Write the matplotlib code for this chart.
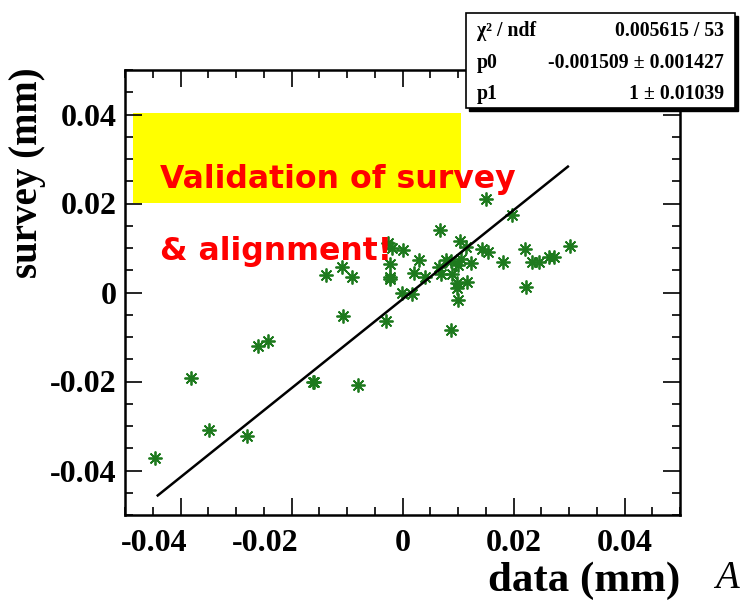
import matplotlib
matplotlib.use("Agg")
import matplotlib.pyplot as plt
from matplotlib.patches import Rectangle
import matplotlib.transforms as mtransforms
import numpy as np

plt.rcParams['axes.unicode_minus'] = False

# ---- data (mm) ----
data_x = [0.01501, 0.01964, 0.00677, 0.01038, 0.01141, -0.00256, -0.00193, 0.00014,
          0.01441, 0.01532, 0.02204, 0.03014, 0.00299, 0.00789, 0.00870, 0.01050,
          0.01231, 0.01813, 0.02342, 0.02461, 0.02641, 0.02726, -0.00223, 0.00209,
          0.00659, 0.00690, 0.00888, 0.00402, -0.00223, -0.00223, 0.00978, 0.01171,
          0.00987, -0.00013, 0.00168, 0.02222, 0.00991, -0.00301, 0.00865, -0.01094,
          -0.00901, -0.01382, -0.01081, -0.02432, -0.02595, -0.03802, -0.01604, -0.01589,
          -0.00796, -0.03495, -0.02793, -0.04463, 0.00991]
survey_y = [0.02101, 0.01741, 0.01403, 0.01167, 0.01032, 0.01122, 0.00998, 0.00953,
            0.00968, 0.00914, 0.00968, 0.01043, 0.00727, 0.00727, 0.00705, 0.00761,
            0.00671, 0.00689, 0.00689, 0.00689, 0.00788, 0.00788, 0.00631, 0.00446,
            0.00570, 0.00408, 0.00408, 0.00345, 0.00351, 0.00293, 0.00203, 0.00243,
            0.00101, 0.0, -0.00023, 0.00119, -0.00173, -0.00640, -0.00842, 0.00563,
            0.00351, 0.00390, -0.00534, -0.01086, -0.01198, -0.01914, -0.02005, -0.02020,
            -0.02088, -0.03086, -0.03230, -0.03725, 0.00615]

p0 = -0.001509
p1 = 1.0
fit_range = [-0.0441, 0.0298]

tick_vals = [-0.04, -0.02, 0, 0.02, 0.04]
tick_labels = ["-0.04", "-0.02", "0", "0.02", "0.04"]

stats_rows = [("\u03c7\u00b2 / ndf", "0.005615 / 53"),
              ("p0", "-0.001509 \u00b1 0.001427"),
              ("p1", "1 \u00b1 0.01039")]

W, H = 741, 606
fig = plt.figure(figsize=(W / 100, H / 100), dpi=100)

def fx(px):
    return px / W

def fy(py):
    return 1 - py / H

ax = fig.add_axes([fx(125), fy(515), (680 - 125) / W, (515 - 70) / H])
ax.set_xlim(-0.05, 0.05)
ax.set_ylim(-0.05, 0.05)

serif = "Liberation Serif"

# yellow box
fig.patches.append(Rectangle((fx(133), fy(203)), (461 - 133) / W, (203 - 113) / H,
                             transform=fig.transFigure, facecolor="#ffff00",
                             edgecolor="none", zorder=0.5))
ax.set_zorder(1)
ax.patch.set_alpha(0)
fig.patch.set_facecolor("white")

# data
ax.plot(data_x, survey_y, linestyle="none", marker=(8, 2, 0), markersize=10,
        markeredgewidth=1.3, color="#1e7a1e", zorder=3)

xf = np.linspace(fit_range[0], fit_range[1], 50)
ax.plot(xf, p0 + p1 * xf, color="black", lw=1.8, zorder=4)

# ticks
ax.set_xticks(tick_vals, tick_labels)
ax.set_yticks(tick_vals, tick_labels)
ax.set_xticks(np.arange(-0.05, 0.0501, 0.005), minor=True)
ax.set_yticks(np.arange(-0.05, 0.0501, 0.005), minor=True)
ax.tick_params(which="both", direction="in", top=True, right=True, width=1.2)
ax.tick_params(which="major", length=12, labelsize=23)
ax.tick_params(which="minor", length=6)
ax.tick_params(axis="x", which="major", pad=10)
ax.tick_params(axis="y", which="major", pad=6)
for lab in ax.get_xticklabels() + ax.get_yticklabels():
    lab.set_fontfamily(serif)
    lab.set_fontweight("bold")
off = mtransforms.ScaledTranslation(-0.26, 0, fig.dpi_scale_trans)
for lab in ax.get_xticklabels():
    if lab.get_text().startswith("-"):
        lab.set_transform(lab.get_transform() + off)
for sp in ax.spines.values():
    sp.set_linewidth(1.8)

ax.set_xlabel("data (mm)", fontfamily=serif, fontweight="bold", fontsize=31)
ax.xaxis.set_label_coords(1.0, -0.105)
ax.xaxis.label.set_horizontalalignment("right")
ax.set_ylabel("survey (mm)", fontfamily=serif, fontweight="bold", fontsize=28)
ax.yaxis.set_label_coords(-0.175, 1.005)
ax.yaxis.label.set_verticalalignment("center")
ax.yaxis.label.set_horizontalalignment("right")

# red text
fig.text(fx(160), fy(188), "Validation of survey", color="#ff0000",
         fontfamily="DejaVu Sans", fontweight="bold", fontsize=22.7, zorder=5)
fig.text(fx(160), fy(260), "& alignment!", color="#ff0000",
         fontfamily="DejaVu Sans", fontweight="bold", fontsize=22.7, zorder=5)

# stats box with shadow
fig.patches.append(Rectangle((fx(469), fy(111)), (735 - 466) / W, (108 - 13) / H,
                             transform=fig.transFigure, facecolor="black",
                             edgecolor="black", zorder=5))
fig.patches.append(Rectangle((fx(466), fy(108)), (735 - 466) / W, (108 - 13) / H,
                             transform=fig.transFigure, facecolor="white",
                             edgecolor="black", lw=1.2, zorder=6))
row_y = [31, 63, 94]
for (lt, rt), yy in zip(stats_rows, row_y):
    fig.text(fx(477), fy(yy), lt, fontfamily=serif, fontweight="bold", fontsize=14.2,
             va="center", ha="left", zorder=7)
    fig.text(fx(724), fy(yy), rt, fontfamily=serif, fontweight="bold", fontsize=14.2,
             va="center", ha="right", zorder=7)

# letter at the right edge
fig.text(fx(739), fy(588), "A", fontfamily=serif, fontstyle="italic", fontsize=28,
         ha="right")

fig.savefig("out.png", dpi=100)
